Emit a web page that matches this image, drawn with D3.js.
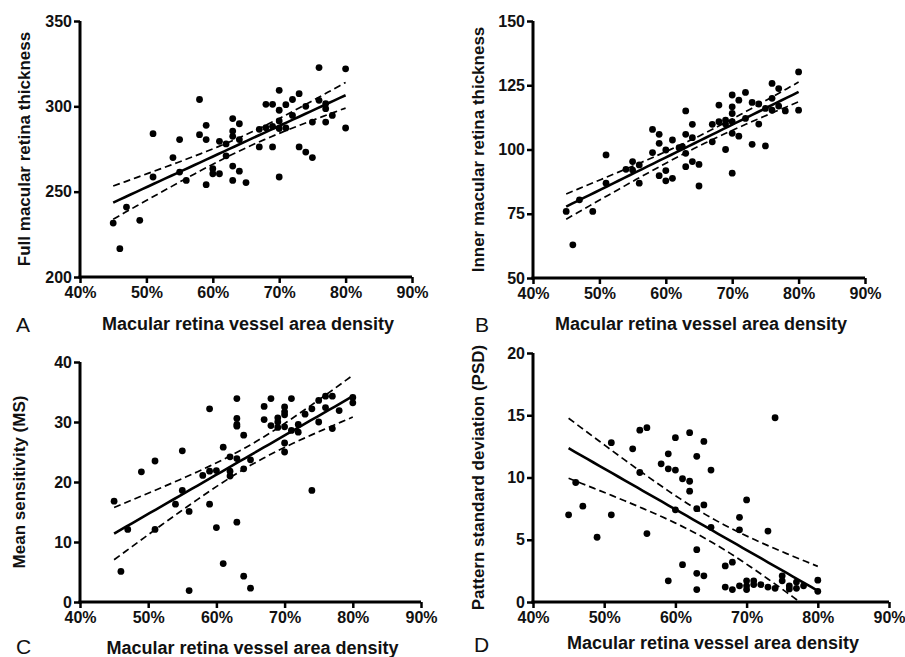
<!DOCTYPE html>
<html><head><meta charset="utf-8">
<script src="https://cdn.jsdelivr.net/npm/d3@7"></script>
<style>
body{margin:0;background:#fff;}
svg text{font-family:"Liberation Sans",Arial,sans-serif;fill:#111;}
</style></head>
<body><svg id="c" width="905" height="657"></svg>
<script>
// ---------- DATA ----------
const xTicks = [40, 50, 60, 70, 80, 90];
const xTitle = "Macular retina vessel area density";
const fitRange = [45, 80];   // x extent of the drawn regression lines

// Panel A: Full macular retina thickness
const densityA = [45,46,47,49,51,51,54,55,55,56,58,58,59,59,59,60,60,61,61,62,62,63,63,63,63,63,64,64,64,65,67,67,68,68,69,69,69,70,70,70,70,70,71,71,72,72,73,73,74,74,75,75,76,76,77,77,77,78,80,80];
const fullThickness = [231.6,216.6,241,233.2,284,258.6,270,280.5,261.5,256.6,304,283.4,288.9,280.5,254.1,263.5,260.5,260.5,279.5,278,271,292.8,285.5,282.4,265,256.6,289.8,280.5,262,255.3,286.5,276.2,301.2,287.5,301.2,276.2,288.3,309.4,297.7,291.4,258.6,287,301,287.3,304,294.7,307.4,276.2,300,273.2,290.8,270,322.7,303.5,301.6,298.6,290.8,294.7,322,287.3];
const yTicksA = [200, 250, 300, 350];
const fitA = [243.6, 306.5];      // regression line at 45% and 80%

// Panel B: Inner macular retina thickness
const densityB = [45,46,47,49,51,51,54,55,55,56,56,58,58,59,59,59,60,60,60,61,61,62,62.5,63,63,63,63,64,64,64,65,65,67,67,68,68,69,69,69,70,70,70,70,70,70,71,71,72,72,73,73,74,74,75,75,76,76,76,77,77,78,80,80];
const innerThickness = [75.9,62.9,80.4,75.9,97.9,86.9,92.3,95.3,92,94,86.9,107.8,98.8,105.9,102.4,89.8,99.8,91.8,87.8,103.7,88.8,100.7,101.1,115,105.9,98.5,93.3,109.8,104.6,95.3,94.2,85.8,109.8,103,117.3,110.8,111.4,109.9,100,121.2,116.6,114,110.8,106.3,90.8,119.2,105.2,122.2,112.1,118.3,102,117.7,109.9,101.4,116,125.7,119.9,115.3,123.7,116.9,115,130.2,115.3];
const yTicksB = [50, 75, 100, 125, 150];
const fitB = [77.8, 122.4];

// Panel C: Mean sensitivity (MS)
const densityC = [45,46,47,49,51,51,54,55,55,56,56,58,59,59,59,60,60,61,61,62,62,62,63,63,63,63,63,63,64,64,64,65,65,67,67,68,68,69,69,69,70,70,70,70,70,70,71,71,72,72,73,74,74,75,75,76,76,77,77,78,80,80];
const meanSensitivity = [16.8,5.1,12.1,21.7,23.5,12.1,16.3,25.2,18.6,15.1,1.9,21.1,32.2,21.8,16.3,21.9,12.4,25.8,6.4,24.2,21.8,21,33.9,30.6,29.6,29.3,23.9,13.3,27.8,22.2,4.3,23.7,2.3,32.6,30.4,33.9,29.4,30.7,30,29.1,32.5,31.7,31.2,29.2,26.5,25,33.9,28.6,29.6,28.3,31.3,32.2,18.6,33.6,30,34.3,32.4,34.3,28.9,31.9,34.1,33.2];
const yTicksC = [0, 10, 20, 30, 40];
const fitC = [11.4, 34.3];

// Panel D: Pattern standard deviation (PSD)
const densityD = [45,46,47,49,51,51,54,55,55,56,56,58,59,59,59,60,60,60,61,61,62,62,62,63,63,63,63,63,64,64,64,65,65,67,67,68,68,69,69,69,70,70,70,70,71,71,72,73,73,74,74,75,75,76,76,77,77,78,80,80];
const psd = [7.0,9.6,7.7,5.2,12.8,7.0,12.3,13.8,10.4,14.0,5.5,11.1,11.9,10.7,1.7,13.2,10.6,7.4,9.9,3.0,13.6,9.7,8.9,11.7,7.5,4.2,2.3,1.0,12.9,7.8,2.1,10.6,6.0,2.9,1.2,3.2,1.0,6.8,5.8,1.3,8.2,1.7,1.3,1.0,1.7,1.4,1.4,5.7,1.2,14.8,1.1,2.1,1.7,1.3,1.05,1.6,1.1,1.3,1.75,0.86];
const yTicksD = [0, 5, 10, 15, 20];
const fitD = [12.35, 0.9];

const yTitles = ["Full macular retina thickness","Inner macular retina thickness","Mean sensitivity (MS)","Pattern standard deviation (PSD)"];
const letters = ["A","B","C","D"];

// ---------- LAYOUT ----------
const panels = [
  {xs: densityA, ys: fullThickness, fit: fitA, yTicks: yTicksA, L:80,  R:412, B:277, T:21,  yTitleX:24,  letter:[16,332],  titleY:330},
  {xs: densityB, ys: innerThickness, fit: fitB, yTicks: yTicksB, L:533, R:865, B:278, T:21,  yTitleX:478, letter:[475,332], titleY:330},
  {xs: densityC, ys: meanSensitivity, fit: fitC, yTicks: yTicksC, L:80,  R:421, B:602, T:362, yTitleX:19,  letter:[16,654],  titleY:654},
  {xs: densityD, ys: psd, fit: fitD, yTicks: yTicksD, L:533, R:889, B:602, T:353, yTitleX:478, letter:[474,652], titleY:649}
];

const svg = d3.select("#c");
const FONT = "'Liberation Sans',Arial,sans-serif";

panels.forEach((p, i) => {
  const x = d3.scaleLinear().domain([40, 90]).range([p.L, p.R]);
  const y = d3.scaleLinear().domain(d3.extent(p.yTicks)).range([p.B, p.T]);
  const g = svg.append("g");

  const clipId = "clip"+i;
  svg.append("clipPath").attr("id", clipId).append("rect")
    .attr("x", p.L).attr("y", p.T - 5).attr("width", p.R - p.L).attr("height", p.B - p.T + 5);

  // points
  g.append("g").selectAll("circle").data(p.xs.map((v,k)=>[v,p.ys[k]])).join("circle")
    .attr("cx", d=>x(d[0])).attr("cy", d=>y(d[1])).attr("r", 3.4).attr("fill", "#000");

  // regression line (read) + 95% confidence band of the mean from the data's spread
  const b = (p.fit[1]-p.fit[0])/(fitRange[1]-fitRange[0]);
  const pred = v => p.fit[0] + b*(v-fitRange[0]);
  const n = p.xs.length, mx = d3.mean(p.xs);
  const sxx = d3.sum(p.xs, v => (v-mx)**2);
  const sse = d3.sum(p.xs, (v,k) => (p.ys[k]-pred(v))**2);
  const s = Math.sqrt(sse/(n-2)), t = 2.0;
  const se = v => s*Math.sqrt(1/n + (v-mx)**2/sxx);
  const grid = d3.range(0, 41).map(k => fitRange[0] + (fitRange[1]-fitRange[0])*k/40);
  const line = d3.line().x(d=>x(d[0])).y(d=>y(d[1]));
  const lg = g.append("g").attr("clip-path", `url(#${clipId})`);
  lg.append("path").attr("d", line(grid.map(v=>[v,pred(v)])))
    .attr("fill","none").attr("stroke","#000").attr("stroke-width",2.6);
  [1,-1].forEach(sg => {
    lg.append("path").attr("d", line(grid.map(v=>[v,pred(v)+sg*t*se(v)])))
      .attr("fill","none").attr("stroke","#000").attr("stroke-width",1.7).attr("stroke-dasharray","7,4");
  });

  // axes
  const xAxis = d3.axisBottom(x).tickValues(xTicks).tickFormat(d=>d+"%").tickSize(6).tickPadding(4);
  const yAxis = d3.axisLeft(y).tickValues(p.yTicks).tickSize(6).tickPadding(2);
  const xa = g.append("g").attr("transform",`translate(0,${p.B})`).call(xAxis);
  const ya = g.append("g").attr("transform",`translate(${p.L},0)`).call(yAxis);
  [xa, ya].forEach(a => {
    a.select(".domain").attr("stroke","#000").attr("stroke-width",3);
    a.selectAll(".tick line").attr("stroke","#000").attr("stroke-width",2.5);
    a.selectAll("text").attr("font-size",16).attr("font-weight","bold").attr("fill","#111")
      .style("font-family", FONT);
  });
  xa.select(".domain").attr("d", `M${p.L-1.5},0H${p.R}`);
  ya.select(".domain").attr("d", `M0,${p.T}V${p.B+1.5}`);

  // titles
  g.append("text").attr("x", (p.L+p.R)/2 + 2).attr("y", p.titleY).attr("text-anchor","middle")
    .attr("font-size",18).attr("font-weight","bold").text(xTitle);
  g.append("text").attr("transform",`translate(${p.yTitleX},${(p.T+p.B)/2}) rotate(-90)`)
    .attr("text-anchor","middle").attr("dominant-baseline","central")
    .attr("font-size",17).attr("font-weight","bold").text(yTitles[i]);
  g.append("text").attr("x", p.letter[0]).attr("y", p.letter[1])
    .attr("font-size",21).text(letters[i]);
});
</script></body></html>
